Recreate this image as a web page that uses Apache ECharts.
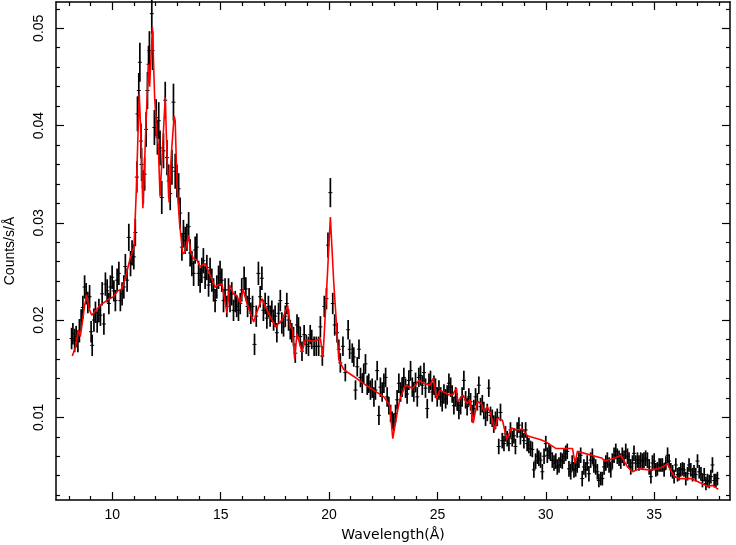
<!DOCTYPE html>
<html>
<head>
<meta charset="utf-8">
<title>Spectrum</title>
<script src="https://cdn.jsdelivr.net/npm/echarts@6/dist/echarts.min.js"></script>
<style>
  html, body { margin: 0; padding: 0; background: #fff; }
  #chart { width: 736px; height: 545px; }
</style>
</head>
<body>
<div id="chart"></div>
<script>
// observed spectrum: wavelength (Å), counts/s/Å, 1-sigma error
var wave = [
  8.12,8.18,8.26,8.33,8.41,8.48,8.56,8.64,8.72,8.79,
  8.87,8.95,9.02,9.07,9.15,9.22,9.30,9.38,9.45,9.53,
  9.61,9.68,9.76,9.84,9.91,9.99,10.07,10.14,10.22,10.30,
  10.37,10.45,10.53,10.60,10.68,10.76,10.84,10.91,10.99,11.06,
  11.13,11.16,11.22,11.27,11.32,11.35,11.43,11.49,11.56,11.62,
  11.67,11.71,11.82,11.86,11.94,12.02,12.08,12.14,12.20,12.28,
  12.36,12.44,12.52,12.60,12.67,12.75,12.82,12.90,12.98,13.06,
  13.13,13.21,13.28,13.36,13.44,13.52,13.59,13.67,13.75,13.82,
  13.90,13.98,14.05,
  14.13,14.20,14.28,14.36,14.44,14.51,14.59,14.67,14.74,14.82,
  14.90,14.97,15.05,15.13,15.20,15.28,15.36,15.43,15.51,15.59,
  15.67,15.74,15.82,15.90,15.97,16.08,16.16,16.24,16.31,16.39,
  16.47,16.56,16.64,16.74,16.82,16.90,16.97,17.05,17.13,17.20,
  17.28,17.36,17.44,17.51,17.59,17.67,17.75,17.82,17.90,17.98,
  18.05,18.13,18.21,18.28,18.36,18.44,18.52,18.59,18.67,18.75,
  18.85,18.95,19.05,19.13,19.20,19.31,19.41,19.52,19.60,19.69,
  19.78,19.88,19.95,20.06,20.17,20.26,20.37,20.45,20.52,20.64,
  20.75,20.88,20.95,
  21.07,21.14,21.22,21.30,21.38,21.45,21.53,21.60,21.68,21.76,
  21.83,21.91,21.99,22.07,22.14,22.22,22.30,22.37,22.45,22.53,
  22.61,22.68,22.76,22.84,22.91,22.99,23.07,23.14,23.22,23.30,
  23.37,23.45,23.53,23.60,23.68,23.76,23.84,23.91,23.99,24.07,
  24.14,24.22,24.30,24.38,24.45,24.53,24.61,24.68,24.76,24.84,
  24.91,24.99,25.07,25.15,25.22,25.30,25.38,25.45,25.53,25.61,
  25.68,25.76,25.84,25.91,25.99,26.07,26.14,26.22,26.30,26.37,
  26.45,26.53,26.60,26.68,26.76,26.84,26.91,26.99,27.07,27.14,
  27.22,27.30,27.37,27.45,27.53,27.60,27.68,27.76,27.83,27.91,
  27.99,28.07,28.14,28.22,28.30,28.37,28.45,28.53,28.60,28.68,
  28.76,28.83,28.91,28.99,29.07,29.14,29.22,29.30,
  29.38,29.45,29.53,29.61,29.68,29.76,29.84,29.92,30.00,30.07,
  30.15,30.22,30.30,30.38,30.46,30.53,30.61,30.69,30.76,30.84,
  30.92,30.99,31.07,31.15,31.22,31.30,31.38,31.45,31.53,31.61,
  31.68,31.76,31.84,31.91,31.99,32.07,32.15,32.22,32.30,32.38,
  32.45,32.54,32.61,32.69,32.77,32.84,32.92,33.00,33.07,33.15,
  33.23,33.30,33.38,33.46,33.53,33.61,33.69,33.77,33.84,33.92,
  34.00,34.07,34.15,34.23,34.30,34.38,34.46,34.53,34.61,34.69,
  34.77,34.85,34.92,35.00,35.08,35.15,35.23,35.31,35.38,35.46,
  35.54,35.62,35.69,35.77,35.85,35.92,36.00,36.08,36.15,36.23,
  36.31,36.38,36.46,36.54,36.61,36.69,36.77,36.84,36.92,37.00,
  37.08,37.16,37.23,37.31,37.39,37.46,37.54,37.62,37.69,37.77,
  37.85,37.92
];
var flux = [
  0.0181,0.0186,0.0179,0.0183,0.0178,0.0189,0.0200,0.0213,0.0234,0.0227,
  0.0218,0.0224,0.0188,0.0174,0.0200,0.0208,0.0198,0.0210,0.0205,0.0227,
  0.0196,0.0237,0.0230,0.0217,0.0234,0.0244,0.0230,0.0220,0.0241,0.0248,
  0.0220,0.0227,0.0234,0.0255,0.0241,0.0285,0.0258,0.0269,0.0265,0.0290,
  0.0347,0.0412,0.0436,0.0465,0.0384,0.0360,0.0337,0.0350,0.0396,0.0436,
  0.0463,0.0477,0.0515,0.0477,0.0398,0.0408,0.0388,0.0405,0.0377,0.0326,
  0.0374,0.0426,0.0367,0.0343,0.0330,0.0357,0.0424,0.0353,0.0343,0.0335,
  0.0310,0.0275,0.0289,0.0282,0.0285,0.0296,0.0269,0.0258,0.0248,0.0272,
  0.0275,0.0248,0.0241,
  0.0251,0.0261,0.0244,0.0254,0.0236,0.0251,0.0241,0.0231,0.0220,0.0234,
  0.0244,0.0248,0.0241,0.0220,0.0231,0.0214,0.0231,0.0220,0.0227,0.0210,
  0.0219,0.0214,0.0210,0.0217,0.0231,0.0243,0.0232,0.0214,0.0222,0.0207,
  0.0214,0.0175,0.0204,0.0248,0.0224,0.0243,0.0210,0.0217,0.0202,0.0214,
  0.0204,0.0209,0.0200,0.0204,0.0187,0.0207,0.0220,0.0197,0.0193,0.0204,
  0.0217,0.0200,0.0190,0.0187,0.0183,0.0166,0.0195,0.0193,0.0183,0.0168,
  0.0185,0.0175,0.0173,0.0185,0.0180,0.0173,0.0173,0.0173,0.0193,0.0163,
  0.0214,0.0222,0.0277,0.0331,0.0217,0.0195,0.0187,0.0170,0.0156,0.0173,
  0.0146,0.0190,0.0170,
  0.0166,0.0162,0.0128,0.0152,0.0170,0.0141,0.0135,0.0145,0.0155,0.0133,
  0.0135,0.0128,0.0130,0.0121,0.0128,0.0148,0.0102,0.0131,0.0126,0.0135,
  0.0141,0.0121,0.0112,0.0104,0.0097,0.0095,0.0104,0.0118,0.0135,0.0126,
  0.0131,0.0141,0.0130,0.0124,0.0138,0.0148,0.0131,0.0126,0.0136,0.0121,
  0.0141,0.0143,0.0133,0.0146,0.0130,0.0109,0.0135,0.0138,0.0126,0.0133,
  0.0130,0.0121,0.0128,0.0121,0.0116,0.0124,0.0119,0.0123,0.0135,0.0131,
  0.0124,0.0112,0.0121,0.0116,0.0107,0.0112,0.0121,0.0138,0.0118,0.0111,
  0.0121,0.0116,0.0104,0.0109,0.0121,0.0116,0.0133,0.0111,0.0114,0.0107,
  0.0100,0.0105,0.0130,0.0102,0.0099,0.0093,0.0097,0.0100,0.0070,0.0105,
  0.0076,0.0073,0.0083,0.0078,0.0073,0.0087,0.0078,0.0081,0.0070,0.0087,
  0.0092,0.0080,0.0087,0.0076,0.0087,0.0073,0.0071,0.0068,
  0.0067,0.0046,0.0055,0.0060,0.0058,0.0056,0.0044,0.0060,0.0073,0.0061,
  0.0065,0.0063,0.0056,0.0053,0.0055,0.0049,0.0051,0.0056,0.0055,0.0060,
  0.0063,0.0065,0.0047,0.0044,0.0053,0.0046,0.0047,0.0051,0.0056,0.0061,
  0.0037,0.0049,0.0046,0.0053,0.0042,0.0056,0.0060,0.0051,0.0049,0.0044,
  0.0035,0.0037,0.0037,0.0049,0.0053,0.0056,0.0051,0.0046,0.0055,0.0061,
  0.0065,0.0060,0.0058,0.0055,0.0061,0.0058,0.0065,0.0060,0.0056,0.0049,
  0.0053,0.0063,0.0053,0.0056,0.0053,0.0056,0.0055,0.0056,0.0058,0.0056,
  0.0049,0.0039,0.0053,0.0055,0.0046,0.0047,0.0051,0.0051,0.0051,0.0046,
  0.0053,0.0061,0.0055,0.0046,0.0044,0.0039,0.0051,0.0041,0.0042,0.0046,
  0.0047,0.0046,0.0037,0.0042,0.0051,0.0046,0.0041,0.0044,0.0041,0.0055,
  0.0044,0.0042,0.0035,0.0041,0.0032,0.0035,0.0034,0.0039,0.0051,0.0035,
  0.0035,0.0037
];
var fluxErr = [
  0.0011,0.0011,0.0012,0.0011,0.0011,0.0012,0.0011,0.0012,0.0012,0.0011,
  0.0011,0.0012,0.0011,0.0011,0.0012,0.0011,0.0011,0.0012,0.0011,0.0012,
  0.0011,0.0012,0.0012,0.0011,0.0012,0.0012,0.0011,0.0011,0.0012,0.0012,
  0.0011,0.0012,0.0012,0.0013,0.0012,0.0014,0.0013,0.0013,0.0013,0.0014,
  0.0016,0.0018,0.0018,0.0020,0.0018,0.0017,0.0017,0.0017,0.0018,0.0019,
  0.0019,0.0020,0.0021,0.0020,0.0018,0.0019,0.0018,0.0019,0.0018,0.0017,
  0.0018,0.0019,0.0018,0.0017,0.0017,0.0018,0.0019,0.0018,0.0017,0.0016,
  0.0016,0.0014,0.0014,0.0014,0.0014,0.0015,0.0014,0.0013,0.0013,0.0014,
  0.0014,0.0013,0.0013,
  0.0013,0.0013,0.0012,0.0013,0.0012,0.0013,0.0012,0.0012,0.0012,0.0012,
  0.0012,0.0013,0.0012,0.0012,0.0012,0.0011,0.0012,0.0012,0.0012,0.0011,
  0.0011,0.0011,0.0011,0.0011,0.0012,0.0012,0.0012,0.0011,0.0011,0.0011,
  0.0011,0.0011,0.0011,0.0012,0.0011,0.0012,0.0011,0.0011,0.0011,0.0011,
  0.0011,0.0011,0.0011,0.0011,0.0010,0.0011,0.0011,0.0011,0.0010,0.0011,
  0.0011,0.0011,0.0010,0.0010,0.0010,0.0010,0.0011,0.0010,0.0010,0.0010,
  0.0010,0.0010,0.0010,0.0010,0.0010,0.0010,0.0010,0.0010,0.0011,0.0010,
  0.0011,0.0011,0.0013,0.0015,0.0011,0.0011,0.0010,0.0010,0.0010,0.0010,
  0.0009,0.0010,0.0010,
  0.0010,0.0010,0.0010,0.0010,0.0010,0.0010,0.0010,0.0010,0.0010,0.0010,
  0.0010,0.0010,0.0010,0.0010,0.0010,0.0010,0.0010,0.0010,0.0010,0.0010,
  0.0010,0.0010,0.0009,0.0009,0.0009,0.0009,0.0009,0.0010,0.0010,0.0010,
  0.0010,0.0010,0.0010,0.0010,0.0010,0.0010,0.0010,0.0010,0.0010,0.0010,
  0.0010,0.0010,0.0010,0.0010,0.0010,0.0010,0.0010,0.0010,0.0010,0.0010,
  0.0010,0.0010,0.0010,0.0010,0.0010,0.0010,0.0010,0.0010,0.0010,0.0010,
  0.0009,0.0009,0.0010,0.0009,0.0009,0.0009,0.0010,0.0010,0.0009,0.0009,
  0.0009,0.0009,0.0009,0.0009,0.0009,0.0009,0.0009,0.0009,0.0009,0.0009,
  0.0009,0.0009,0.0009,0.0009,0.0009,0.0009,0.0009,0.0009,0.0008,0.0009,
  0.0008,0.0008,0.0008,0.0008,0.0008,0.0008,0.0008,0.0008,0.0008,0.0008,
  0.0008,0.0008,0.0008,0.0008,0.0008,0.0008,0.0008,0.0008,
  0.0008,0.0008,0.0008,0.0008,0.0008,0.0008,0.0008,0.0008,0.0008,0.0008,
  0.0008,0.0008,0.0008,0.0008,0.0008,0.0008,0.0008,0.0008,0.0008,0.0008,
  0.0008,0.0008,0.0008,0.0008,0.0008,0.0008,0.0008,0.0008,0.0008,0.0008,
  0.0008,0.0008,0.0008,0.0008,0.0008,0.0008,0.0008,0.0008,0.0008,0.0008,
  0.0007,0.0007,0.0007,0.0008,0.0008,0.0008,0.0008,0.0008,0.0008,0.0008,
  0.0008,0.0008,0.0008,0.0008,0.0008,0.0008,0.0008,0.0008,0.0008,0.0008,
  0.0008,0.0008,0.0008,0.0008,0.0008,0.0008,0.0008,0.0008,0.0008,0.0008,
  0.0008,0.0007,0.0008,0.0008,0.0007,0.0007,0.0007,0.0007,0.0007,0.0007,
  0.0007,0.0008,0.0007,0.0007,0.0007,0.0007,0.0007,0.0007,0.0007,0.0007,
  0.0007,0.0007,0.0007,0.0007,0.0007,0.0007,0.0007,0.0007,0.0007,0.0007,
  0.0007,0.0007,0.0007,0.0007,0.0007,0.0007,0.0007,0.0007,0.0008,0.0007,
  0.0007,0.0007
];

// folded model (red line)
var modelWave = [
  8.15,8.30,8.43,8.52,8.60,8.72,8.82,8.92,9.05,9.20,9.43,9.80,10.05,10.25,10.44,10.62,10.82,11.00,
  11.10,11.24,11.30,11.41,11.55,11.67,11.72,11.85,11.95,12.05,12.12,12.20,12.30,12.44,12.52,12.62,
  12.72,12.85,12.90,12.98,13.10,13.25,13.35,13.51,13.62,13.74,13.90,14.05,14.28,14.52,14.74,14.90,
  15.06,15.29,15.41,15.59,15.75,15.90,16.03,16.21,16.52,16.70,16.90,17.14,17.52,17.83,18.09,18.21,
  18.32,18.41,18.52,18.75,18.91,19.29,19.60,19.72,19.91,20.06,20.21,20.45,20.68,21.14,21.45,21.91,
  22.53,22.80,22.94,23.14,23.26,23.52,23.84,23.99,24.14,24.37,24.65,24.81,24.96,25.11,25.46,25.69,
  25.88,25.94,26.19,26.35,26.50,26.65,26.84,27.03,27.15,27.30,27.45,27.64,27.77,28.00,28.20,28.41,
  28.69,28.92,29.15,29.30,29.77,29.99,30.46,31.23,31.35,31.46,32.61,32.69,33.16,33.46,33.77,34.00,
  34.31,34.77,35.16,35.39,35.62,35.93,36.16,36.70,37.00,37.47,37.70,37.96
];
var modelFlux = [
  0.0163,0.0172,0.0190,0.0183,0.0195,0.0215,0.0226,0.0212,0.0205,0.0209,0.0215,0.0221,0.0224,0.0230,0.0232,0.0245,0.0263,0.0275,
  0.0330,0.0433,0.0400,0.0315,0.0400,0.0463,0.0440,0.0501,0.0430,0.0392,0.0380,0.0327,0.0370,0.0429,0.0370,0.0321,
  0.0370,0.0410,0.0405,0.0340,0.0300,0.0268,0.0270,0.0287,0.0270,0.0263,0.0262,0.0255,0.0258,0.0246,0.0234,0.0236,
  0.0237,0.0207,0.0236,0.0227,0.0225,0.0217,0.0232,0.0217,0.0198,0.0210,0.0222,0.0210,0.0193,0.0200,0.0215,0.0193,
  0.0190,0.0160,0.0186,0.0167,0.0180,0.0178,0.0181,0.0162,0.0241,0.0306,0.0241,0.0159,0.0149,0.0142,0.0137,0.0130,
  0.0121,0.0112,0.0078,0.0104,0.0118,0.0133,0.0130,0.0133,0.0138,0.0135,0.0133,0.0140,0.0119,0.0128,0.0124,0.0123,
  0.0130,0.0116,0.0123,0.0114,0.0118,0.0094,0.0116,0.0114,0.0106,0.0111,0.0104,0.0087,0.0099,0.0097,0.0077,0.0089,
  0.0087,0.0088,0.0081,0.0080,0.0077,0.0075,0.0068,0.0068,0.0053,0.0065,0.0058,0.0055,0.0058,0.0061,0.0049,0.0044,
  0.0047,0.0046,0.0047,0.0049,0.0052,0.0039,0.0037,0.0037,0.0034,0.0029,0.0030,0.0026
];

// axis ranges and ticks
var xMin = 7.4, xMax = 38.5;
var yMin = 0.0015, yMax = 0.0527;
var xMajor = [10, 15, 20, 25, 30, 35];
var xMinor = [8, 9, 11, 12, 13, 14, 16, 17, 18, 19, 21, 22, 23, 24, 26, 27, 28, 29, 31, 32, 33, 34, 36, 37, 38];
var yMajor = [0.01, 0.02, 0.03, 0.04, 0.05];
var yMinor = [0.002, 0.004, 0.006, 0.008, 0.012, 0.014, 0.016, 0.018, 0.022, 0.024, 0.026, 0.028,
              0.032, 0.034, 0.036, 0.038, 0.042, 0.044, 0.046, 0.048, 0.052];

var chart = echarts.init(document.getElementById('chart'));

var font = 'Liberation Sans, Arial, sans-serif';
var black = '#000';

function frameAxis(pos, min, max, ticks, len, main) {
    return {
        type: 'value',
        position: pos,
        min: min,
        max: max,
        axisLine: { show: main, onZero: false, lineStyle: { color: black, width: 1.5 } },
        axisTick: { show: true, inside: true, length: len, customValues: ticks,
                    lineStyle: { color: black, width: 1.2 } },
        axisLabel: { show: false },
        splitLine: { show: false }
    };
}

var errData = [];
for (var i = 0; i < wave.length; i++) {
    errData.push([wave[i], flux[i], fluxErr[i]]);
}
var modelData = [];
for (var j = 0; j < modelWave.length; j++) {
    modelData.push([modelWave[j], modelFlux[j]]);
}

// bottom / left axes carry labels, the rest just draw the frame ticks
var xBottom = frameAxis('bottom', xMin, xMax, xMajor, 8, true);
xBottom.axisLabel = { show: true, customValues: xMajor, fontSize: 14, color: black, margin: 8, fontFamily: font };
xBottom.name = 'Wavelength(Å)';
xBottom.nameLocation = 'middle';
xBottom.nameGap = 28;
xBottom.nameTextStyle = { fontSize: 14, color: black, fontFamily: 'DejaVu Sans, sans-serif' };

var yLeft = frameAxis('left', yMin, yMax, yMajor, 8, true);
yLeft.axisLabel = { show: true, customValues: yMajor, rotate: 90, fontSize: 14, color: black, margin: 10, fontFamily: font };
yLeft.name = 'Counts/s/Å';
yLeft.nameLocation = 'middle';
yLeft.nameGap = 39;
yLeft.nameTextStyle = { fontSize: 14, color: black, fontFamily: font };

var option = {
    animation: false,
    backgroundColor: '#fff',
    grid: { left: 56, right: 6, top: 2, bottom: 45, containLabel: false, outerBoundsMode: 'none' },
    xAxis: [
        xBottom,
        frameAxis('bottom', xMin, xMax, xMinor, 4, false),
        frameAxis('top', xMin, xMax, xMajor, 8, true),
        frameAxis('top', xMin, xMax, xMinor, 4, false)
    ],
    yAxis: [
        yLeft,
        frameAxis('left', yMin, yMax, yMinor, 4, false),
        frameAxis('right', yMin, yMax, yMajor, 8, true),
        frameAxis('right', yMin, yMax, yMinor, 4, false)
    ],
    series: [
        {
            name: 'data',
            type: 'custom',
            xAxisIndex: 0,
            yAxisIndex: 0,
            encode: { x: 0, y: 1 },
            data: errData,
            z: 2,
            renderItem: function (params, api) {
                var x = api.value(0), y = api.value(1), e = api.value(2);
                var hi = api.coord([x, y + e]);
                var lo = api.coord([x, y - e]);
                var mid = api.coord([x, y]);
                return {
                    type: 'group',
                    children: [
                        { type: 'line', shape: { x1: hi[0], y1: hi[1], x2: lo[0], y2: lo[1] },
                          style: { stroke: '#000', lineWidth: 1.7 } },
                        { type: 'line', shape: { x1: mid[0] - 2, y1: mid[1], x2: mid[0] + 2, y2: mid[1] },
                          style: { stroke: '#000', lineWidth: 1 } }
                    ]
                };
            }
        },
        {
            name: 'model',
            type: 'line',
            xAxisIndex: 0,
            yAxisIndex: 0,
            data: modelData,
            symbol: 'none',
            z: 3,
            lineStyle: { color: '#ff0000', width: 1.6 }
        }
    ]
};
chart.setOption(option);
</script>
</body>
</html>
